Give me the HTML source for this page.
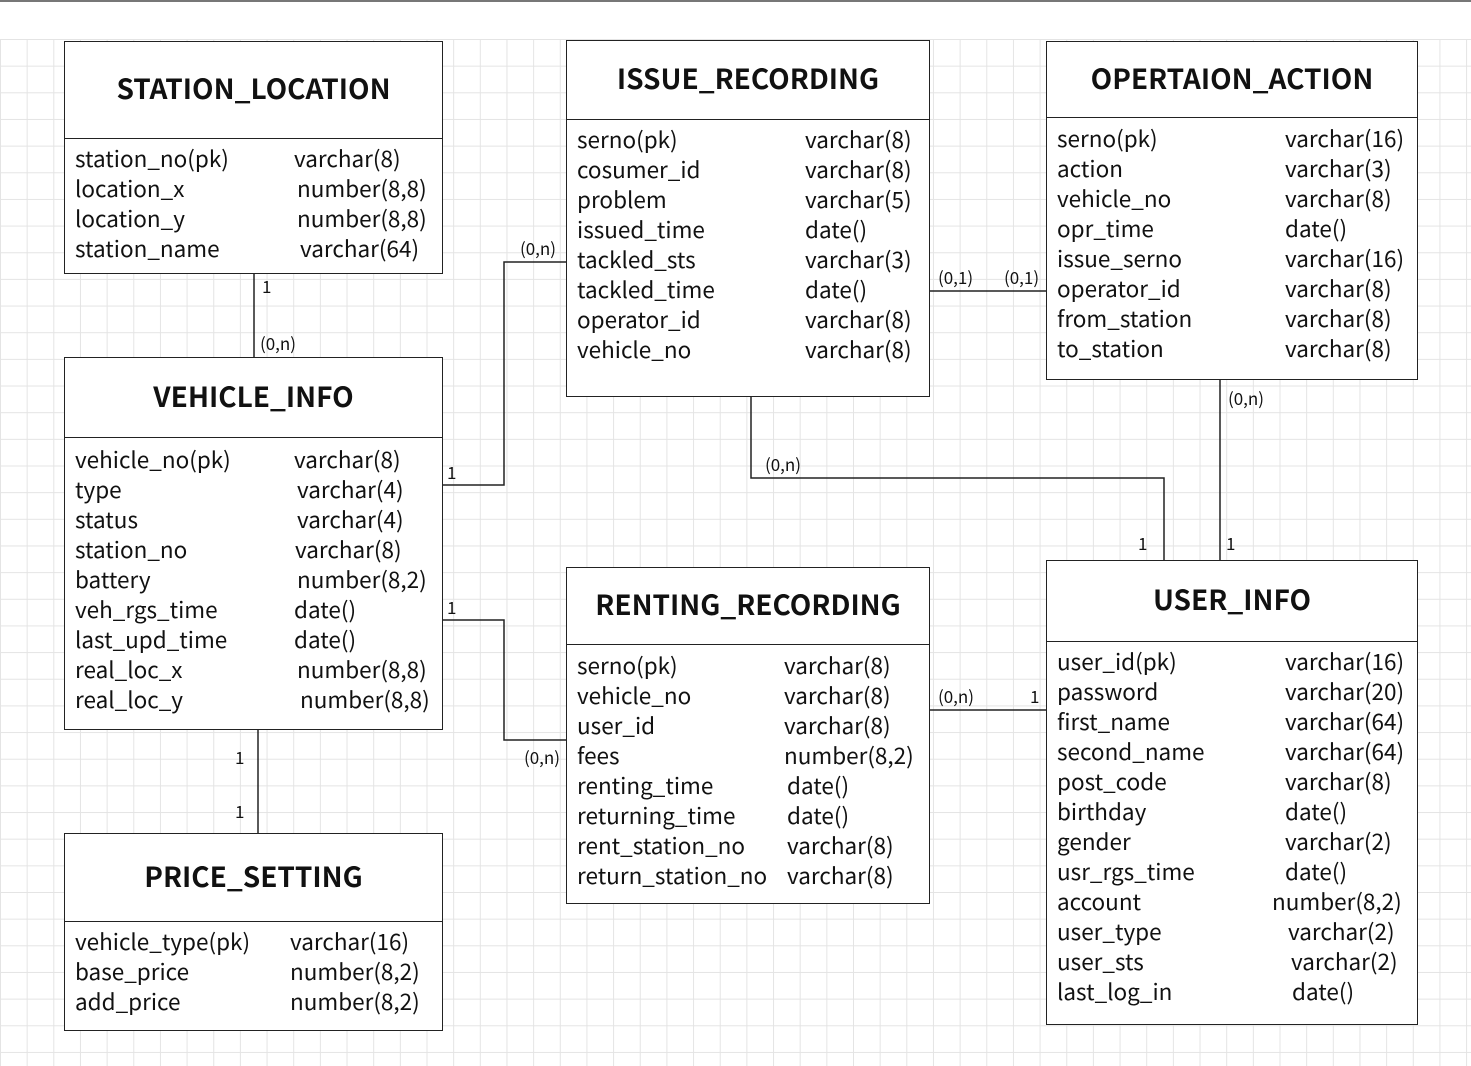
<!DOCTYPE html>
<html><head><meta charset="utf-8"><style>
body{margin:0;width:1471px;height:1066px;position:relative;overflow:hidden;background:#fff;font-family:"Noto Sans CJK SC","Liberation Sans",sans-serif;color:#111;}
.grid{position:absolute;left:0;top:39px;width:1471px;height:1027px;
background-image:linear-gradient(to right,#e4e4e4 1px,transparent 1px),linear-gradient(to bottom,#e4e4e4 1px,transparent 1px);
background-size:26.67px 26.67px;background-position:0 0;}
.topbar{position:absolute;left:0;top:0;width:1471px;height:2px;background:#777;}
.box{position:absolute;border:1.5px solid #222;background:#fff;box-sizing:border-box;}
.hd{position:absolute;left:0;right:0;top:-4px;border-bottom:1.5px solid #222;font-weight:bold;font-size:28px;text-align:center;display:flex;align-items:center;justify-content:center;}
.t{position:absolute;font-size:22.5px;line-height:30px;white-space:nowrap;margin-top:-1px;}
.l{position:absolute;font-size:17px;white-space:nowrap;margin-top:-2px;}
svg{position:absolute;left:0;top:0;}
</style></head><body>
<div class="topbar"></div>
<div class="grid"></div>
<svg width="1471" height="1066"><g fill="none" stroke="#222" stroke-width="1.5">
<path d="M254 274V357"/>
<path d="M443 485H504V262H566"/>
<path d="M443 620H504V740H566"/>
<path d="M258 730V833"/>
<path d="M930 291H1046"/>
<path d="M751 397V478H1164V560"/>
<path d="M1220 380V560"/>
<path d="M930 710H1046"/>
</g></svg>

<div class="box" style="left:64px;top:41px;width:379px;height:233px"><div class="hd" style="height:100px">STATION_LOCATION</div></div>
<div class="box" style="left:64px;top:357px;width:379px;height:373px"><div class="hd" style="height:83px">VEHICLE_INFO</div></div>
<div class="box" style="left:64px;top:833px;width:379px;height:198px"><div class="hd" style="height:91px">PRICE_SETTING</div></div>
<div class="box" style="left:566px;top:40px;width:364px;height:357px"><div class="hd" style="height:82px">ISSUE_RECORDING</div></div>
<div class="box" style="left:566px;top:567px;width:364px;height:337px"><div class="hd" style="height:80px">RENTING_RECORDING</div></div>
<div class="box" style="left:1046px;top:41px;width:372px;height:339px"><div class="hd" style="height:79px">OPERTAION_ACTION</div></div>
<div class="box" style="left:1046px;top:560px;width:372px;height:465px"><div class="hd" style="height:84px">USER_INFO</div></div>

<div class="t" style="left:75px;top:144px">station_no(pk)<br>location_x<br>location_y<br>station_name</div>
<div class="t" style="left:294px;top:144px">varchar(8)</div>
<div class="t" style="left:297px;top:174px">number(8,8)<br>number(8,8)</div>
<div class="t" style="left:300px;top:234px">varchar(64)</div>
<div class="t" style="left:75px;top:445px">vehicle_no(pk)<br>type<br>status<br>station_no<br>battery<br>veh_rgs_time<br>last_upd_time<br>real_loc_x<br>real_loc_y</div>
<div class="t" style="left:294px;top:445px">varchar(8)</div>
<div class="t" style="left:297px;top:475px">varchar(4)<br>varchar(4)</div>
<div class="t" style="left:295px;top:535px">varchar(8)</div>
<div class="t" style="left:297px;top:565px">number(8,2)</div>
<div class="t" style="left:294px;top:595px">date()<br>date()</div>
<div class="t" style="left:297px;top:655px">number(8,8)</div>
<div class="t" style="left:300px;top:685px">number(8,8)</div>
<div class="t" style="left:75px;top:927px">vehicle_type(pk)<br>base_price<br>add_price</div>
<div class="t" style="left:290px;top:927px">varchar(16)<br>number(8,2)<br>number(8,2)</div>
<div class="t" style="left:577px;top:125px">serno(pk)<br>cosumer_id<br>problem<br>issued_time<br>tackled_sts<br>tackled_time<br>operator_id<br>vehicle_no</div>
<div class="t" style="left:805px;top:125px">varchar(8)<br>varchar(8)<br>varchar(5)<br>date()<br>varchar(3)<br>date()<br>varchar(8)<br>varchar(8)</div>
<div class="t" style="left:577px;top:651px">serno(pk)<br>vehicle_no<br>user_id<br>fees<br>renting_time<br>returning_time<br>rent_station_no<br>return_station_no</div>
<div class="t" style="left:784px;top:651px">varchar(8)<br>varchar(8)<br>varchar(8)<br>number(8,2)</div>
<div class="t" style="left:787px;top:771px">date()<br>date()<br>varchar(8)<br>varchar(8)</div>
<div class="t" style="left:1057px;top:124px">serno(pk)<br>action<br>vehicle_no<br>opr_time<br>issue_serno<br>operator_id<br>from_station<br>to_station</div>
<div class="t" style="left:1285px;top:124px">varchar(16)<br>varchar(3)<br>varchar(8)<br>date()<br>varchar(16)<br>varchar(8)<br>varchar(8)<br>varchar(8)</div>
<div class="t" style="left:1057px;top:647px">user_id(pk)<br>password<br>first_name<br>second_name<br>post_code<br>birthday<br>gender<br>usr_rgs_time<br>account<br>user_type<br>user_sts<br>last_log_in</div>
<div class="t" style="left:1285px;top:647px">varchar(16)<br>varchar(20)<br>varchar(64)<br>varchar(64)<br>varchar(8)<br>date()<br>varchar(2)<br>date()</div>
<div class="t" style="left:1272px;top:887px">number(8,2)</div>
<div class="t" style="left:1288px;top:917px">varchar(2)</div>
<div class="t" style="left:1291px;top:947px">varchar(2)</div>
<div class="t" style="left:1292px;top:977px">date()</div>

<div class="l" style="left:262px;top:275px">1</div>
<div class="l" style="left:260px;top:332px">(0,n)</div>
<div class="l" style="left:447px;top:461px">1</div>
<div class="l" style="left:520px;top:237px">(0,n)</div>
<div class="l" style="left:447px;top:596px">1</div>
<div class="l" style="left:524px;top:746px">(0,n)</div>
<div class="l" style="left:235px;top:746px">1</div>
<div class="l" style="left:235px;top:800px">1</div>
<div class="l" style="left:938px;top:266px">(0,1)</div>
<div class="l" style="left:1004px;top:266px">(0,1)</div>
<div class="l" style="left:765px;top:453px">(0,n)</div>
<div class="l" style="left:1138px;top:532px">1</div>
<div class="l" style="left:1228px;top:387px">(0,n)</div>
<div class="l" style="left:1226px;top:532px">1</div>
<div class="l" style="left:938px;top:685px">(0,n)</div>
<div class="l" style="left:1030px;top:685px">1</div>
</body></html>
